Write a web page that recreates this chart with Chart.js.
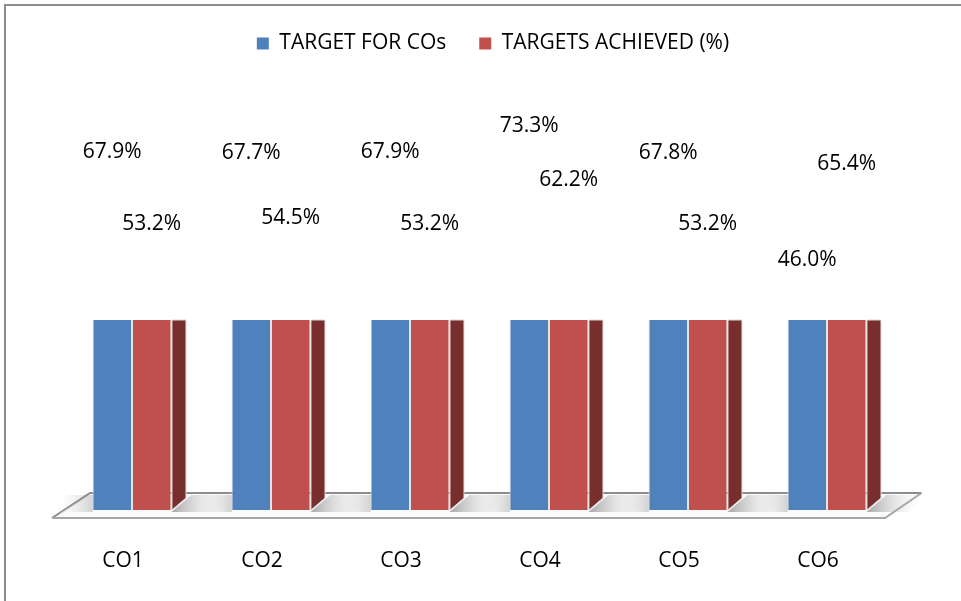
<!DOCTYPE html>
<html><head><meta charset="utf-8">
<script src="https://cdn.jsdelivr.net/npm/chart.js@4/dist/chart.umd.min.js"></script>
<style>html,body{margin:0;padding:0;background:#fff}#wrap{width:961px;height:601px;position:relative}</style>
</head><body><div id="wrap"><canvas id="c" width="961" height="601"></canvas></div>
<script>
const categories = ['CO1', 'CO2', 'CO3', 'CO4', 'CO5', 'CO6'];
const targetForCOs = [67.9, 67.7, 67.9, 73.3, 67.8, 46.0];
const targetsAchieved = [53.2, 54.5, 53.2, 62.2, 53.2, 65.4];
const seriesNames = ['TARGET FOR COs', 'TARGETS ACHIEVED (%)'];

const FONT = 'Open Sans';
Chart.defaults.font.family = FONT;
Chart.defaults.color = '#000';

const legendHeight = {
  id: 'legendHeight',
  beforeInit(chart) {
    const orig = chart.legend.fit;
    chart.legend.fit = function () { orig.call(this); this.height = 320; };
  }
};

const frame = {
  id: 'frame',
  beforeDraw(chart) {
    const ctx = chart.ctx;
    ctx.save();
    ctx.fillStyle = '#fff';
    ctx.fillRect(0, 0, chart.width, chart.height);
    ctx.fillStyle = '#8c8c8c';
    ctx.fillRect(4, 4, chart.width - 4, 2);
    ctx.fillRect(4, 4, 2, chart.height - 4);
    ctx.restore();
  },
  beforeDatasetsDraw(chart) {
    const ctx = chart.ctx, a = chart.chartArea;
    const L = a.left, R = a.right, B = a.bottom;
    ctx.save();
    ctx.beginPath();
    ctx.moveTo(L - 10.5, B + 8);
    ctx.lineTo(L + 27.5, B - 17);
    ctx.lineTo(R + 25, B - 17);
    ctx.lineTo(R - 11.5, B + 8);
    ctx.closePath();
    ctx.fillStyle = '#fbfbfb';
    ctx.fill();
    const meta = chart.getDatasetMeta(1);
    meta.data.forEach(bar => {
      const xr = bar.x + bar.width / 2;
      const g = ctx.createLinearGradient(xr, 0, xr + 60, 0);
      g.addColorStop(0, 'rgba(110,110,110,0.6)');
      g.addColorStop(1, 'rgba(255,255,255,0)');
      ctx.beginPath();
      ctx.moveTo(xr, B + 2);
      ctx.lineTo(xr + 20, B - 15);
      ctx.lineTo(xr + 62, B - 15);
      ctx.lineTo(xr + 42, B + 2);
      ctx.closePath();
      ctx.fillStyle = g;
      ctx.fill();
    });
    chart.getDatasetMeta(0).data.forEach(bar => {
      const xl = bar.x - bar.width / 2;
      const g = ctx.createLinearGradient(xl, 0, xl - 40, 0);
      g.addColorStop(0, 'rgba(150,150,150,0.4)');
      g.addColorStop(1, 'rgba(255,255,255,0)');
      ctx.beginPath();
      ctx.moveTo(xl, B + 2);
      ctx.lineTo(xl + 8, B - 15);
      ctx.lineTo(xl - 25, B - 15);
      ctx.lineTo(xl - 40, B + 2);
      ctx.closePath();
      ctx.fillStyle = g;
      ctx.fill();
    });
    ctx.lineWidth = 2;
    ctx.strokeStyle = '#8c8c8c';
    ctx.beginPath();
    ctx.moveTo(L - 10.5, B + 8);
    ctx.lineTo(L + 27.5, B - 17);
    ctx.lineTo(R + 25, B - 17);
    ctx.stroke();
    ctx.beginPath();
    ctx.moveTo(R + 25, B - 17);
    ctx.lineTo(R - 11.5, B + 8);
    ctx.lineTo(L - 10.5, B + 8);
    ctx.strokeStyle = '#a6a6a6';
    ctx.stroke();
    ctx.lineWidth = 1;
    ctx.strokeStyle = '#d0d0d0';
    ctx.beginPath();
    ctx.moveTo(L - 3, B + 4);
    ctx.lineTo(L + 26, B - 14);
    ctx.stroke();
    ctx.restore();
  },
  afterDatasetsDraw(chart) {
    const ctx = chart.ctx, a = chart.chartArea;
    ctx.save();
    chart.getDatasetMeta(1).data.forEach(bar => {
      const xr = bar.x + bar.width / 2 + 0.5;
      const top = Math.max(a.top, bar.y);
      ctx.beginPath();
      ctx.moveTo(xr, top);
      ctx.lineTo(xr + 14, top);
      ctx.lineTo(xr + 14, bar.base - 12);
      ctx.lineTo(xr, bar.base);
      ctx.closePath();
      ctx.fillStyle = '#772e2c';
      ctx.fill();
      ctx.strokeStyle = '#d9d9d9';
      ctx.lineWidth = 1;
      ctx.stroke();
    });
    const y2 = chart.scales.y2;
    ctx.font = '21px "' + FONT + '"';
    ctx.fillStyle = '#000';
    ctx.textAlign = 'center';
    ctx.textBaseline = 'middle';
    chart.data.datasets.forEach((ds, i) => {
      chart.getDatasetMeta(i).data.forEach((bar, j) => {
        ctx.fillText(ds.data[j].toFixed(1) + '%', bar.x, y2.getPixelForValue(ds.data[j]));
      });
    });
    ctx.restore();
  }
};

new Chart(document.getElementById('c'), {
  type: 'bar',
  data: {
    labels: categories,
    datasets: [
      { label: seriesNames[0], data: targetForCOs, backgroundColor: '#4f81bd', borderColor: '#e4e4e4', borderWidth: 1, clip: 0 },
      { label: seriesNames[1], data: targetsAchieved, backgroundColor: '#c0504d', borderColor: '#e4e4e4', borderWidth: 1, clip: 0 }
    ]
  },
  options: {
    responsive: false,
    animation: false,
    devicePixelRatio: 1,
    layout: { padding: { left: 25, right: 0, top: 0, bottom: 0 } },
    datasets: { bar: { categoryPercentage: 0.568, barPercentage: 1 } },
    plugins: {
      tooltip: { enabled: false },
      legend: {
        position: 'top',
        labels: {
          font: { family: FONT, size: 21 },
          color: '#000',
          boxWidth: 12,
          boxHeight: 12,
          padding: 33,
          generateLabels(chart) {
            return Chart.defaults.plugins.legend.labels.generateLabels(chart).map(l => Object.assign(l, { lineWidth: 0 }));
          }
        }
      }
    },
    scales: {
      x: {
        type: 'category',
        position: 'bottom',
        grid: { display: false, drawTicks: false },
        border: { display: false },
        ticks: { font: { family: FONT, size: 21 }, color: '#000', padding: 38, labelOffset: -9, maxRotation: 0, autoSkip: false },
        afterFit(s) { s.height = 91; }
      },
      y: {
        position: 'left',
        min: 0,
        max: 40,
        grid: { display: false, drawTicks: false },
        border: { display: false },
        ticks: { display: false },
        afterFit(s) { s.width = 37.5; }
      },
      y2: {
        position: 'right',
        min: -5.0,
        max: 33.7,
        grid: { display: false, drawTicks: false },
        border: { display: false },
        ticks: { display: false },
        afterFit(s) { s.width = 64.5; }
      }
    }
  },
  plugins: [legendHeight, frame]
});
</script>
</body></html>
